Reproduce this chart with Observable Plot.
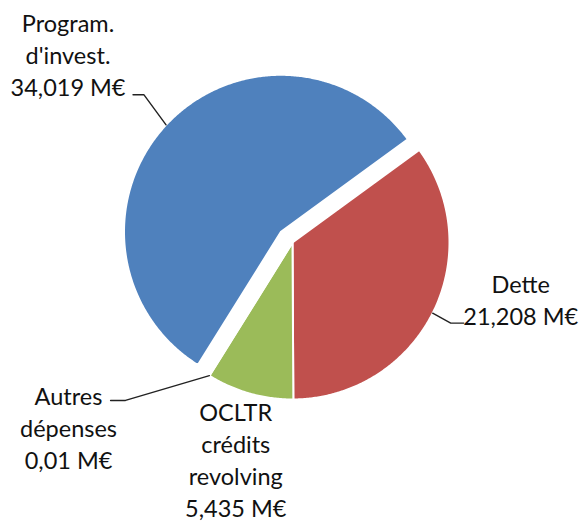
<!DOCTYPE html>
<html><head><meta charset="utf-8">
<script src="https://cdn.jsdelivr.net/npm/d3@7"></script>
<script src="https://cdn.jsdelivr.net/npm/@observablehq/plot@0.6"></script>
<style>body{margin:0;background:#fff}</style>
</head><body><div id="chart"></div>
<script>
// ---- data ----
const categories = ["Program.\nd'invest.", "Dette", "OCLTR\ncrédits\nrevolving", "Autres\ndépenses"];
const values = [34.019, 21.208, 5.435, 0.01];
const unit = "M€";

// ---- style / layout ----
const colors = ["#4F81BD", "#C0504D", "#9BBB59", "#8064A2"];
const explode = [0.1, 0, 0, 0];
const firstSliceDeg = 212;
// leader: elbow angle (deg) & radius from slice vertex, horizontal run, label offset from leader end (radius units)
const layout = [
  {leader: true, elbowDeg: 315, elbowR: 1.234, run: -0.07, lx: -0.414, ly: 0.261},
  {leader: true, elbowDeg: 117, elbowR: 1.131, run: 0.083, lx: 0.363, ly: 0.153},
  {leader: false, lx: -0.089, ly: -0.418},
  {leader: true, elbowDeg: 226.6, elbowR: 1.464, run: -0.095, lx: -0.268, ly: -0.166}
];

const rad = Math.PI / 180;
const pie = d3.pie().sort(null).value(d => d)
  .startAngle(firstSliceDeg * rad).endAngle(firstSliceDeg * rad + 2 * Math.PI);
const arcs = pie(values);
const polar = (a, r, o = [0, 0]) => [o[0] + r * Math.sin(a), o[1] + r * Math.cos(a)];

const slices = [];
const leaders = [];
const labels = [];
arcs.forEach((a, i) => {
  const mid = (a.startAngle + a.endAngle) / 2;
  const off = polar(mid, explode[i]);
  const pts = [off];
  const n = Math.max(2, Math.ceil((a.endAngle - a.startAngle) / (Math.PI / 360)));
  for (let k = 0; k <= n; k++) pts.push(polar(a.startAngle + (a.endAngle - a.startAngle) * k / n, 1, off));
  pts.push(off);
  pts.forEach(p => slices.push({i, x: p[0], y: p[1], color: colors[i]}));

  const L = layout[i];
  const edge = polar(mid, 1, off);
  const text = categories[i] + "\n" + String(values[i]).replace(".", ",") + " " + unit;
  if (L.leader) {
    const elbow = polar(L.elbowDeg * rad, L.elbowR, off);
    const end = [elbow[0] + L.run, elbow[1]];
    [edge, elbow, end].forEach(p => leaders.push({i, x: p[0], y: p[1]}));
    labels.push({text, x: end[0] + L.lx, y: end[1] + L.ly});
  } else {
    labels.push({text, x: edge[0] + L.lx, y: edge[1] + L.ly});
  }
});

const W = 581, H = 522, R = 157, cx = 292, cy = 242;
const chart = Plot.plot({
  width: W, height: H, margin: 0,
  x: {domain: [-cx / R, (W - cx) / R], axis: null},
  y: {domain: [-(H - cy) / R, cy / R], axis: null},
  style: {background: "#fff"},
  marks: [
    Plot.line(slices, {x: "x", y: "y", z: "i", fill: "color", stroke: "#fff", strokeWidth: 2, curve: "linear"}),
    Plot.line(leaders, {x: "x", y: "y", z: "i", stroke: "#222", strokeWidth: 1.4, curve: "linear"}),
    Plot.text(labels, {x: "x", y: "y", text: "text", textAnchor: "middle", lineAnchor: "middle",
      lineHeight: 1.36, fontSize: 23.5, fontFamily: "Lato", fill: "#111"})
  ]
});
document.getElementById("chart").appendChild(chart);
</script>
</body></html>
